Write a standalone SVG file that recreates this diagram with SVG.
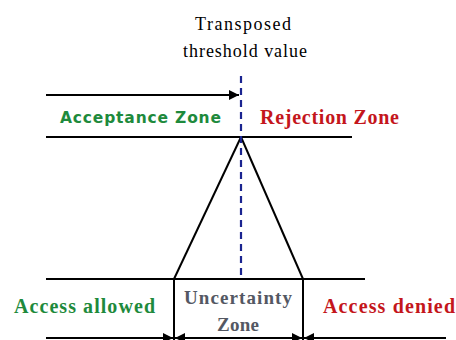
<svg xmlns="http://www.w3.org/2000/svg" width="456" height="340" viewBox="0 0 456 340">
<style>
.ln{stroke:#000;stroke-width:2;fill:none}
.sr{font-family:'Liberation Serif','DejaVu Serif',serif}
.t{font-size:18px;fill:#000;text-anchor:middle}
.b{font-weight:bold}
.g{fill:#1e8a3c}
.r{fill:#c4161c}
.u{fill:#545863;text-anchor:middle;font-size:19px}
</style>
<defs>
<marker id="ah" viewBox="0 0 10 10" refX="10" refY="5" markerWidth="5" markerHeight="5" orient="auto" markerUnits="strokeWidth"><path d="M0,0 L10,5 L0,10 z" fill="#000"/></marker>
</defs>
<rect width="456" height="340" fill="#fff"/>
<g id="title"><text class="sr t" x="243" y="30" textLength="96">Transposed</text><text class="sr t" x="245" y="57" textLength="124">threshold value</text></g>
<g id="connectors">
<line class="ln" x1="46" y1="95" x2="239" y2="95" marker-end="url(#ah)"/>
<line class="ln" x1="46" y1="137" x2="352" y2="137"/>
<line class="ln" x1="241" y1="137" x2="174" y2="279"/>
<line class="ln" x1="241" y1="137" x2="303" y2="279"/>
<line class="ln" x1="46" y1="279" x2="365" y2="279"/>
<line class="ln" x1="174" y1="279" x2="174" y2="340"/>
<line class="ln" x1="303" y1="279" x2="303" y2="340"/>
<line class="ln" x1="46" y1="338" x2="173" y2="338" marker-end="url(#ah)"/>
<line class="ln" x1="238" y1="338" x2="175" y2="338" marker-end="url(#ah)"/>
<line class="ln" x1="238" y1="338" x2="302" y2="338" marker-end="url(#ah)"/>
<line class="ln" x1="446" y1="338" x2="304" y2="338" marker-end="url(#ah)"/>
<line x1="241" y1="76" x2="241" y2="279" stroke="#1a2490" stroke-width="2.2" stroke-dasharray="7,5"/>
</g>
<g id="acceptance"><text x="60" y="123" font-family="'DejaVu Sans',Verdana,sans-serif" font-size="15.5" font-weight="bold" class="g" textLength="161">Acceptance Zone</text></g>
<g id="rejection"><text class="sr b r" x="260" y="124" font-size="20" textLength="139">Rejection Zone</text></g>
<g id="allowed"><text class="sr b g" x="14" y="313" font-size="20" textLength="141">Access allowed</text></g>
<g id="uncertainty"><text class="sr b u" x="238" y="304" textLength="108">Uncertainty</text><text class="sr b u" x="238" y="331" textLength="42">Zone</text></g>
<g id="denied"><text class="sr b r" x="323" y="313" font-size="20" textLength="132">Access denied</text></g>
</svg>
